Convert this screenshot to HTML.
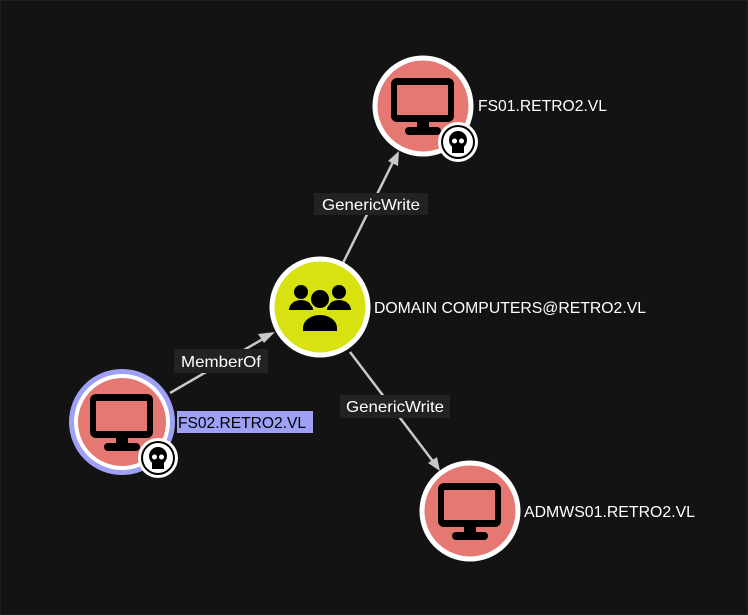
<!DOCTYPE html>
<html><head><style>
html,body{margin:0;padding:0;background:#131313;}
svg{display:block}
text{font-family:"Liberation Sans",sans-serif;font-size:16px;fill:#fff}
</style></head><body>
<svg width="748" height="615" viewBox="0 0 748 615">
<rect x="0" y="0" width="748" height="615" fill="#131313" stroke="#2a2a2a"/>
<g stroke="#c8c8c8" stroke-width="2.5" fill="none">
<line x1="343" y1="263" x2="394" y2="160"/>
<line x1="170" y1="393" x2="268" y2="336"/>
<line x1="350" y1="352" x2="435" y2="464"/>
</g>
<g fill="#c8c8c8">
<polygon points="399,151 398,166 388,161"/>
<polygon points="275,332 264,343 258,334"/>
<polygon points="440,471 428,463 437,457"/>
</g>
<rect x="314" y="193" width="114" height="22" fill="#222"/>
<text x="322" y="210" textLength="98" lengthAdjust="spacingAndGlyphs">GenericWrite</text>
<rect x="174" y="349" width="94" height="24" fill="#222"/>
<text x="181" y="367" textLength="80" lengthAdjust="spacingAndGlyphs">MemberOf</text>
<rect x="340" y="395" width="110" height="23" fill="#222"/>
<text x="346" y="412" textLength="98" lengthAdjust="spacingAndGlyphs">GenericWrite</text>

<g transform="translate(423,106)">
<circle r="48" fill="#e57873" stroke="#fff" stroke-width="5"/>
<rect x="-32" y="-28" width="63" height="44" rx="6" fill="#000"/>
<rect x="-26" y="-21" width="51" height="30" fill="#e57873"/>
<rect x="-6" y="14" width="12" height="8" fill="#000"/>
<rect x="-18" y="21" width="36" height="8" rx="4" fill="#000"/>
</g>
<g transform="translate(458,142)">
<circle r="20" fill="#fff"/><circle r="17" fill="#000"/><circle r="15" fill="#fff"/>
<circle cy="-2" r="9" fill="#000"/><rect x="-6" y="3" width="12" height="8" fill="#000"/>
<circle cx="-3.5" cy="-1" r="2.5" fill="#fff"/><circle cx="3.5" cy="-1" r="2.5" fill="#fff"/>
</g>
<text x="478" y="111" textLength="129" lengthAdjust="spacingAndGlyphs">FS01.RETRO2.VL</text>

<g transform="translate(320,307)">
<circle r="48" fill="#d8e211" stroke="#fff" stroke-width="5"/>
<circle cx="-19" cy="-15" r="7" fill="#000"/><circle cx="19" cy="-15" r="7" fill="#000"/>
<path d="M-31,3 a12,10 0 0 1 24,0 z M7,3 a12,10 0 0 1 24,0 z" fill="#000"/>
<circle cx="0" cy="-8" r="10" fill="#000" stroke="#d8e211" stroke-width="2"/>
<path d="M-18,25 v-4 a18,14 0 0 1 36,0 v4 z" fill="#000" stroke="#d8e211" stroke-width="2"/>
</g>
<text x="374" y="313" textLength="272" lengthAdjust="spacingAndGlyphs">DOMAIN COMPUTERS@RETRO2.VL</text>

<g transform="translate(122,422)">
<circle r="53" fill="#9ea0f5"/>
<circle r="48" fill="#fff"/>
<circle r="44" fill="#e57873"/>
<rect x="-32" y="-28" width="63" height="44" rx="6" fill="#000"/>
<rect x="-26" y="-21" width="51" height="30" fill="#e57873"/>
<rect x="-6" y="14" width="12" height="8" fill="#000"/>
<rect x="-18" y="21" width="36" height="8" rx="4" fill="#000"/>
</g>
<g transform="translate(158,458)">
<circle r="20" fill="#fff"/><circle r="17" fill="#000"/><circle r="15" fill="#fff"/>
<circle cy="-2" r="9" fill="#000"/><rect x="-6" y="3" width="12" height="8" fill="#000"/>
<circle cx="-3.5" cy="-1" r="2.5" fill="#fff"/><circle cx="3.5" cy="-1" r="2.5" fill="#fff"/>
</g>
<rect x="177" y="411" width="136" height="22" fill="#9ea0f5"/>
<text x="178" y="428" style="fill:#000" textLength="128" lengthAdjust="spacingAndGlyphs">FS02.RETRO2.VL</text>

<g transform="translate(470,511)">
<circle r="48" fill="#e57873" stroke="#fff" stroke-width="5"/>
<rect x="-32" y="-28" width="63" height="44" rx="6" fill="#000"/>
<rect x="-26" y="-21" width="51" height="30" fill="#e57873"/>
<rect x="-6" y="14" width="12" height="8" fill="#000"/>
<rect x="-18" y="21" width="36" height="8" rx="4" fill="#000"/>
</g>
<text x="524" y="517" textLength="171" lengthAdjust="spacingAndGlyphs">ADMWS01.RETRO2.VL</text>
</svg>
</body></html>
